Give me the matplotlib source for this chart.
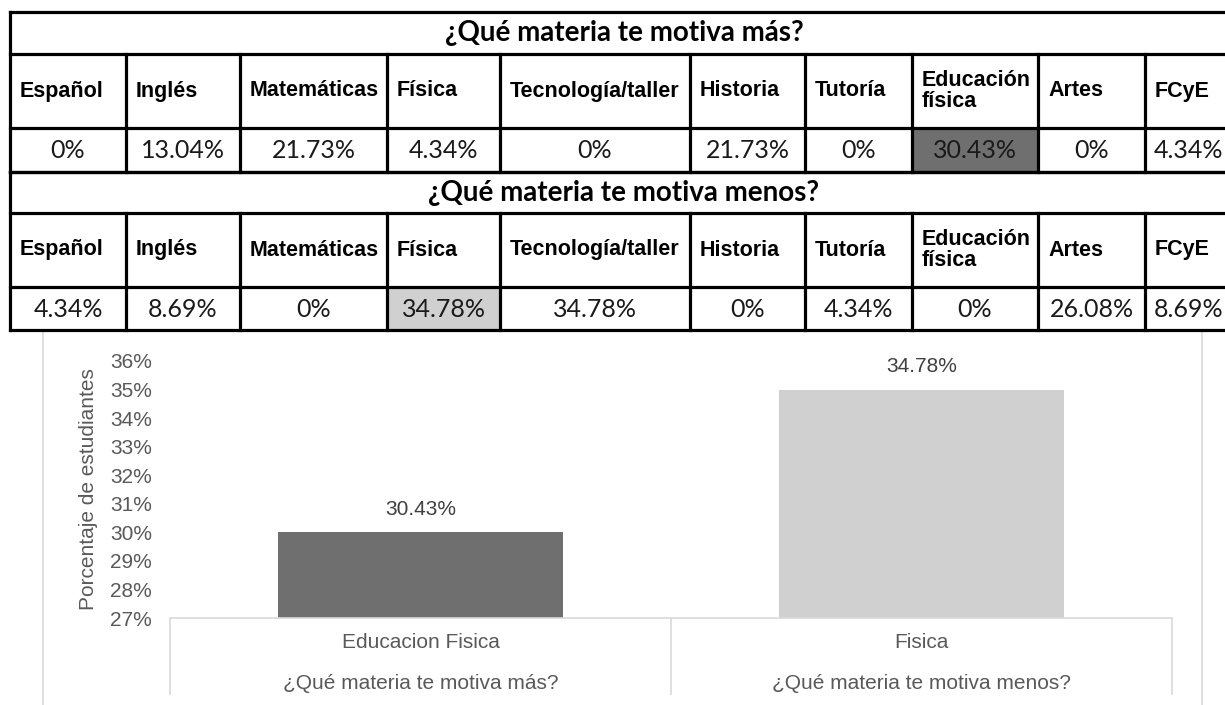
import matplotlib
matplotlib.use("Agg")
import matplotlib.pyplot as plt
from matplotlib.patches import Rectangle

# datos de la encuesta
materias = ["Español", "Inglés", "Matemáticas", "Física", "Tecnología/taller",
            "Historia", "Tutoría", "Educación\nfísica", "Artes", "FCyE"]
motiva_mas = ["0%", "13.04%", "21.73%", "4.34%", "0%", "21.73%", "0%", "30.43%", "0%", "4.34%"]
motiva_menos = ["4.34%", "8.69%", "0%", "34.78%", "34.78%", "0%", "4.34%", "0%", "26.08%", "8.69%"]
titulo_mas = "¿Qué materia te motiva más?"
titulo_menos = "¿Qué materia te motiva menos?"

# grafica de barras
categorias = ["Educacion Fisica", "Fisica"]
grupos = ["¿Qué materia te motiva más?", "¿Qué materia te motiva menos?"]
alturas = [30, 35]
etiquetas = ["30.43%", "34.78%"]
colores = ["#6f6f6f", "#d0d0d0"]
ticks_y = list(range(27, 37))

W, H = 1225, 705
fig = plt.figure(figsize=(W / 100, H / 100), dpi=100)

# ---- tabla (coordenadas en pixeles) ----
bg = fig.add_axes([0, 0, 1, 1])
bg.set_xlim(0, W)
bg.set_ylim(H, 0)
bg.axis("off")

col_x = [10, 126, 240, 387, 500, 690, 805, 912, 1038, 1145, 1232]
filas_y = [12, 54, 128, 172, 213, 287, 330]
lw = 2.3

# marco gris del grafico
bg.add_patch(Rectangle((43, 330), 1202 - 43, 400, fill=False, ec="#d9d9d9", lw=1.2, zorder=1))

bloques = [(titulo_mas, motiva_mas, 0, 7, "#6f6f6f"),
           (titulo_menos, motiva_menos, 3, 3, "#d0d0d0")]
for titulo, valores, r, resaltado, color in bloques:
    y0, y1, y2, y3 = filas_y[r:r + 4]
    # celda resaltada
    bg.add_patch(Rectangle((col_x[resaltado], y2), col_x[resaltado + 1] - col_x[resaltado],
                           y3 - y2, color=color, zorder=2))
    bg.add_patch(Rectangle((col_x[0], y0), col_x[-1] - col_x[0], y3 - y0,
                           color="white", zorder=1.5))
    for y in (y0, y1, y2, y3):
        bg.plot([col_x[0], col_x[-1]], [y, y], color="black", lw=lw, zorder=3, solid_capstyle="projecting")
    bg.plot([col_x[0], col_x[0]], [y0, y3], color="black", lw=lw, zorder=3)
    bg.plot([col_x[-1], col_x[-1]], [y0, y3], color="black", lw=lw, zorder=3)
    for x in col_x[1:-1]:
        bg.plot([x, x], [y1, y3], color="black", lw=lw, zorder=3)
    bg.text(624, (y0 + y1) / 2, titulo, ha="center", va="center",
            fontsize=20, fontweight="bold", family="Lato", zorder=4)
    for i, m in enumerate(materias):
        bg.text(col_x[i] + 10, (y1 + y2) / 2, m, ha="left", va="center", fontsize=15.5,
                fontweight="bold", family="Liberation Sans", linespacing=1.05, zorder=4)
        bg.text((col_x[i] + col_x[i + 1]) / 2, (y2 + y3) / 2 + 1, valores[i], ha="center",
                va="center", fontsize=18, family="Lato", color="#1a1a1a", zorder=4)

# ---- grafica ----
ax = fig.add_axes([170 / W, (H - 618) / H, 1002 / W, 257 / H])
x = list(range(len(categorias)))
ax.bar(x, alturas, width=0.57, color=colores, zorder=2)
ax.set_xlim(-0.5, len(categorias) - 0.5)
ax.set_ylim(ticks_y[0], ticks_y[-1])
ax.set_yticks(ticks_y)
ax.set_yticklabels([f"{t}%" for t in ticks_y], family="Liberation Sans")
ax.tick_params(axis="y", length=0, pad=13, labelsize=15, labelcolor="#595959")
ax.set_xticks([])
for s in ("top", "right", "left"):
    ax.spines[s].set_visible(False)
ax.spines["bottom"].set_color("#d9d9d9")
ax.spines["bottom"].set_linewidth(1.2)
ax.patch.set_alpha(0)

ax.set_ylabel("Porcentaje de estudiantes", fontsize=15, color="#595959",
              family="Liberation Sans", va="center")
ax.yaxis.set_label_coords(-0.081, 0.5)

for xi, h, et in zip(x, alturas, etiquetas):
    ax.annotate(et, (xi, h), xytext=(0, 16.5), textcoords="offset points", ha="center",
                va="center", fontsize=15, color="#404040", family="Liberation Sans")

tr = ax.get_xaxis_transform()
for xi, cat, grp in zip(x, categorias, grupos):
    ax.annotate(cat, (xi, 0), xycoords=tr, xytext=(0, -18), textcoords="offset points",
                ha="center", va="center", fontsize=15, color="#595959", family="Liberation Sans")
    ax.annotate(grp, (xi, 0), xycoords=tr, xytext=(0, -47), textcoords="offset points",
                ha="center", va="center", fontsize=15, color="#595959", family="Liberation Sans")
ax.vlines([b - 0.5 for b in range(len(categorias) + 1)], -0.3, 0, transform=tr,
          color="#d9d9d9", lw=1.2, clip_on=False)

fig.savefig("out.png", dpi=100)
